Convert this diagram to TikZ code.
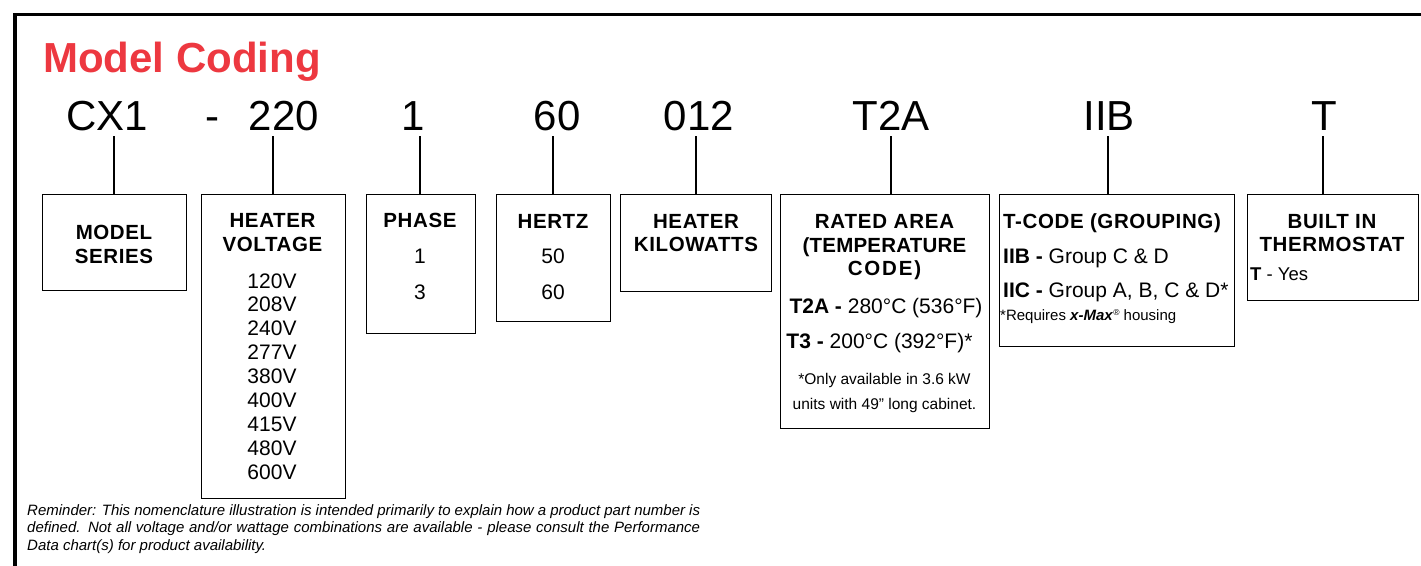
\documentclass[tikz,border=0pt]{standalone}
\usepackage{fontspec}
\setmainfont{Liberation Sans}
\definecolor{titlered}{RGB}{237,56,64}
\begin{document}
\begin{tikzpicture}[x=1pt,y=-1pt,
  box/.style={draw, line width=1.3pt, anchor=north west, inner sep=0pt},
  conn/.style={line width=1.3pt},
  lbl/.style={inner sep=0pt, anchor=base},
  codefont/.style={lbl, font=\fontsize{42}{42}\selectfont},
  ttl/.style={lbl, font=\bfseries\fontsize{20.5}{24}\selectfont\addfontfeature{LetterSpace=3}},
  val/.style={lbl, font=\fontsize{21}{24}\selectfont},
  small/.style={lbl, font=\fontsize{15.5}{18}\selectfont}]
\useasboundingbox (0,0) rectangle (1421,565);
% frame
\draw[line width=3.5pt] (15,566) -- (15,14.5) -- (1422,14.5);
% title
\node[lbl, anchor=base west, text=titlered, font=\bfseries\fontsize{42}{42}\selectfont] (title) at (43,72) {Model Coding};
% code
\node[codefont] (c1) at (107.5,130) {CX1};
\node[codefont] (cd) at (212,130) {-};
\node[codefont] (c2) at (284,130) {220};
\node[codefont] (c3) at (413,130) {1};
\node[codefont] (c4) at (557,130) {60};
\node[codefont] (c5) at (699,130) {012};
\node[codefont] (c6) at (891,130) {T2A};
\node[codefont] (c7) at (1109,130) {IIB};
\node[codefont] (c8) at (1324,130) {T};
% boxes
\node[box, minimum width=144pt, minimum height=96pt] (ms) at (42,194) {};
\node[box, minimum width=144pt, minimum height=304pt] (hv) at (201,194) {};
\node[box, minimum width=109pt, minimum height=139pt] (ph) at (366,194) {};
\node[box, minimum width=114pt, minimum height=127pt] (hz) at (496,194) {};
\node[box, minimum width=151pt, minimum height=97pt] (kw) at (620,194) {};
\node[box, minimum width=209pt, minimum height=234pt] (ra) at (780,194) {};
\node[box, minimum width=235pt, minimum height=152pt] (tc) at (999,194) {};
\node[box, minimum width=171pt, minimum height=106pt] (bt) at (1247,194) {};
% connectors
\coordinate (t1) at (114,136);
\coordinate (t2) at (273,136);
\coordinate (t3) at (420,136);
\coordinate (t4) at (553,136);
\coordinate (t5) at (696,136);
\coordinate (t6) at (891,136);
\coordinate (t7) at (1108,136);
\coordinate (t8) at (1323,136);
\draw[conn] (t1) -- (t1 |- ms.north);
\draw[conn] (t2) -- (t2 |- hv.north);
\draw[conn] (t3) -- (t3 |- ph.north);
\draw[conn] (t4) -- (t4 |- hz.north);
\draw[conn] (t5) -- (t5 |- kw.north);
\draw[conn] (t6) -- (t6 |- ra.north);
\draw[conn] (t7) -- (t7 |- tc.north);
\draw[conn] (t8) -- (t8 |- bt.north);
% model series
\node[ttl] (ms1) at (114,239) {MODEL};
\node[ttl] (ms2) at (114,263) {SERIES};
% heater voltage
\node[ttl] (hv1) at (272.5,227) {HEATER};
\node[ttl] (hv2) at (272.5,251) {VOLTAGE};
\foreach \v [count=\i from 0] in {120V,208V,240V,277V,380V,400V,415V,480V,600V}
  \node[val] (v\i) at (272,{288+23.875*\i}) {\v};
% phase
\node[ttl] (ph1) at (420,227) {PHASE};
\node[val] (ph2) at (420,263) {1};
\node[val] (ph3) at (420,299) {3};
% hertz
\node[ttl] (hz1) at (553,228) {HERTZ};
\node[val] (hz2) at (553,263) {50};
\node[val] (hz3) at (553,299) {60};
% kilowatts
\node[ttl] (kw1) at (696,228) {HEATER};
\node[ttl] (kw2) at (696,251) {KILOWATTS};
% rated area
\node[ttl] (ra1) at (884.5,228) {\addfontfeature{LetterSpace=4}RATED AREA};
\node[ttl] (ra2) at (884.5,252) {\addfontfeature{LetterSpace=1}(TEMPERATURE};
\node[ttl] (ra3) at (884.5,275) {\addfontfeature{LetterSpace=9}CODE)};
\node[val] (ra4) at (886,313) {\textbf{T2A -} 280°C (536°F)};
\node[val] (ra5) at (879.5,348) {\textbf{T3 -} 200°C (392°F)*};
\node[small] (ra6) at (884.5,384) {*Only available in 3.6 kW};
\node[small] (ra7) at (884.5,409) {units with 49” long cabinet.};
% t-code
\node[ttl, anchor=base west] (tc1) at (1003,228) {T-CODE (GROUPING)};
\node[val, anchor=base west] (tc2) at (1003,263) {\textbf{IIB -} Group C \& D};
\node[val, anchor=base west] (tc3) at (1003,297) {\textbf{IIC -} Group A, B, C \& D*};
\node[small, anchor=base west, font=\fontsize{15}{18}\selectfont] (tc4) at (1000,320) {*Requires \textbf{\textit{x-Max}}\raisebox{5pt}{\fontsize{8.5}{9}\selectfont ®} housing};
% thermostat
\node[ttl] (bt1) at (1332,228) {BUILT IN};
\node[ttl] (bt2) at (1332,251) {THERMOSTAT};
\node[lbl, anchor=base west, font=\fontsize{18.5}{20}\selectfont] (bt3) at (1250,280) {\textbf{T} - Yes};
% reminder
\node[inner sep=0pt, anchor=north west, text width=673pt, align=justify,
      font=\itshape\fontsize{15}{17.5}\selectfont] (rem) at (27,504)
  {\hyphenpenalty=10000\exhyphenpenalty=10000\tolerance=9999\noindent
   Reminder: This nomenclature illustration is intended primarily to explain how a product part number is\linebreak
   defined. Not all voltage and/or wattage combinations are available - please consult the Performance\linebreak
   Data chart(s) for product availability.};
\end{tikzpicture}
\end{document}
